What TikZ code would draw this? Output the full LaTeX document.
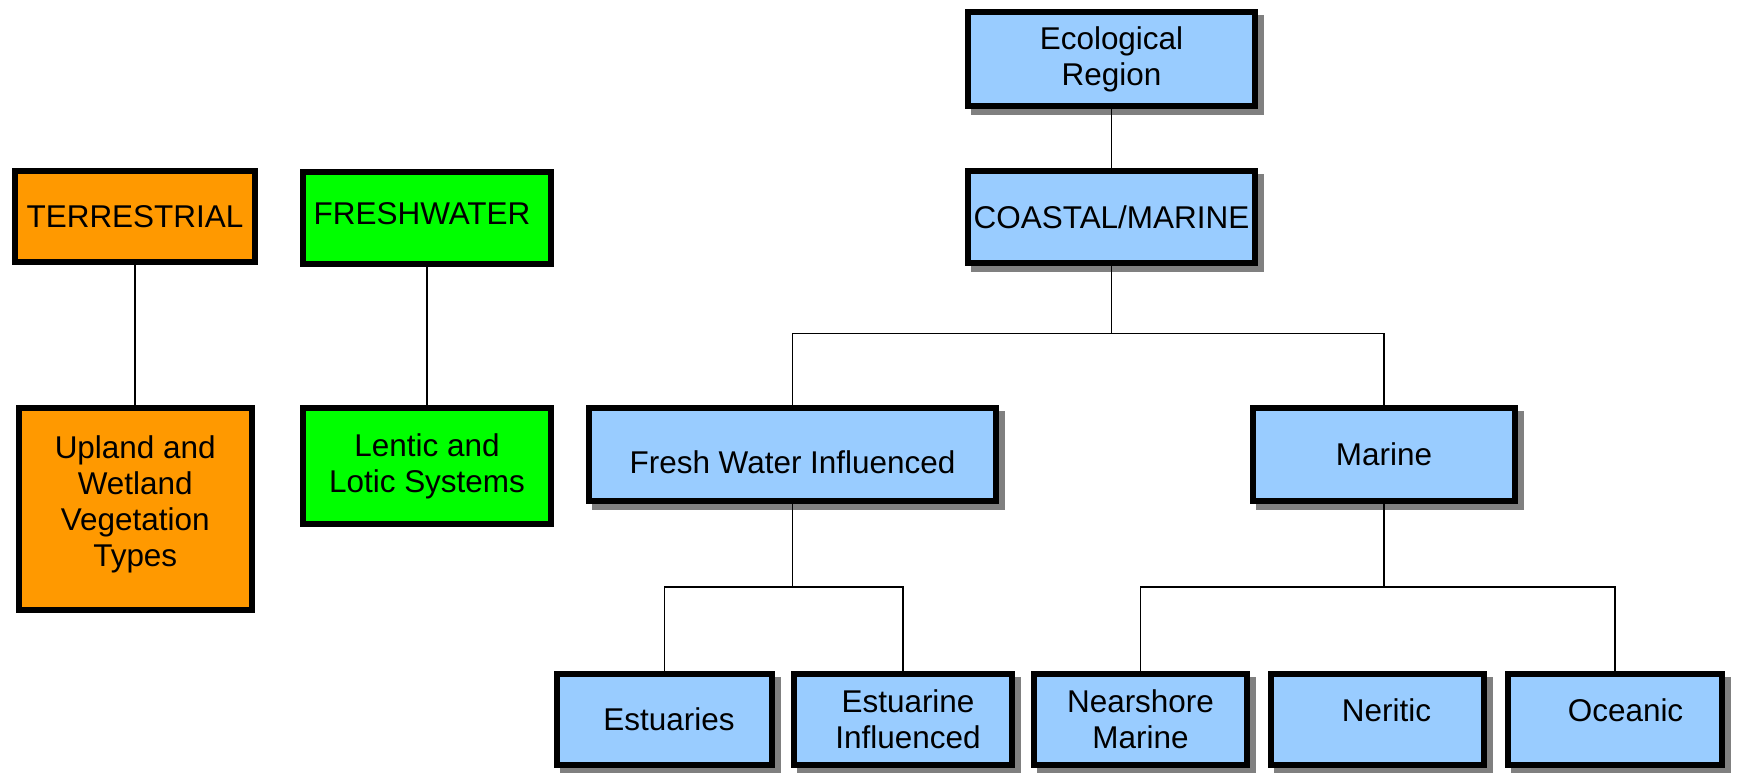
\documentclass[tikz,border=0pt]{standalone}
\usepackage{fontspec}
\setmainfont{Liberation Sans}
\definecolor{boxblue}{HTML}{99CCFF}
\definecolor{boxorange}{HTML}{FF9900}
\definecolor{boxgreen}{HTML}{00FF00}
\definecolor{shadowgray}{HTML}{808080}

\begin{document}
\begin{tikzpicture}[x=0.75pt,y=-0.75pt,
  box/.style={draw=black, line width=4.5pt, rectangle, inner sep=0pt},
  wh/.style 2 args={minimum width=#1*0.75pt, minimum height=#2*0.75pt},
  shadowed/.style={preaction={fill=shadowgray, draw=shadowgray,
      transform canvas={xshift=4.5pt, yshift=-4.5pt}}},
  bluebox/.style={box, shadowed, fill=boxblue},
  orangebox/.style={box, fill=boxorange},
  greenbox/.style={box, fill=boxgreen},
  txt/.style={font=\fontsize{23.6}{27}\selectfont, align=center, inner sep=0pt},
  conn/.style={line width=1.2pt}]

\useasboundingbox (0,0) rectangle (1737,773);

% coastal / marine hierarchy
\node[bluebox, wh={287}{94}] (eco)     at (1111.5,59)    {};
\node[bluebox, wh={287}{92}] (coastal) at (1111.5,217)   {};
\node[bluebox, wh={407}{93}] (fwi)     at (792.5,454.5)  {};
\node[bluebox, wh={262}{93}] (marine)  at (1384,454.5)   {};
\node[bluebox, wh={215}{91}] (est)     at (664.5,719.5)  {};
\node[bluebox, wh={218}{91}] (estinf)  at (903,719.5)    {};
\node[bluebox, wh={213}{91}] (near)    at (1140.5,719.5) {};
\node[bluebox, wh={213}{91}] (neritic) at (1377.5,719.5) {};
\node[bluebox, wh={214}{91}] (oceanic) at (1615,719.5)   {};

% terrestrial and freshwater columns
\node[orangebox, wh={240}{91}]    (terr)   at (135,216.5)  {};
\node[orangebox, wh={233.5}{202}] (upland) at (135.25,509) {};
\node[greenbox, wh={248}{92}]     (fresh)  at (427,218)    {};
\node[greenbox, wh={248}{116}]    (lentic) at (427,466)    {};

% labels
\node[txt] (eco-t)     at (eco.center)                          {Ecological\\Region};
\node[txt] (coastal-t) at (coastal.center)                      {COASTAL/MARINE};
\node[txt] (fwi-t)     at ([shift={(0,7.5)}]fwi.center)         {Fresh Water Influenced};
\node[txt] (marine-t)  at (marine.center)                       {Marine};
\node[txt] (est-t)     at ([shift={(4.5,0)}]est.center)         {Estuaries};
\node[txt] (estinf-t)  at ([shift={(5,0)}]estinf.center)        {Estuarine\\Influenced};
\node[txt] (near-t)    at (near.center)                         {Nearshore\\Marine};
\node[txt] (neritic-t) at ([shift={(9,-9.5)}]neritic.center)    {Neritic};
\node[txt] (oceanic-t) at ([shift={(10.5,-9.5)}]oceanic.center) {Oceanic};
\node[txt] (terr-t)    at (terr.center)                         {TERRESTRIAL};
\node[txt] (upland-t)  at ([shift={(0,-5)}]upland.center)       {Upland and\\Wetland\\Vegetation\\Types};
\node[txt] (fresh-t)   at ([shift={(-5,-4)}]fresh.center)       {FRESHWATER};
\node[txt] (lentic-t)  at (lentic.center)                       {Lentic and\\Lotic Systems};

% connectors
\coordinate (j1) at (1111.5,333.5);
\coordinate (j2) at (792.5,587);
\coordinate (j3) at (1384,587);
\draw[conn] (eco) -- (coastal);
\draw[conn] (coastal) -- (j1);
\draw[conn] (fwi.north) |- (j1) -| (marine.north);
\draw[conn] (fwi) -- (j2);
\draw[conn] (est.north) |- (j2) -| (estinf.north);
\draw[conn] (marine) -- (j3);
\draw[conn] (near.north) |- (j3) -| (oceanic.north);
\draw[conn] (terr.south) -- (terr.south |- upland.north);
\draw[conn] (fresh.south) -- (fresh.south |- lentic.north);
\end{tikzpicture}
\end{document}
